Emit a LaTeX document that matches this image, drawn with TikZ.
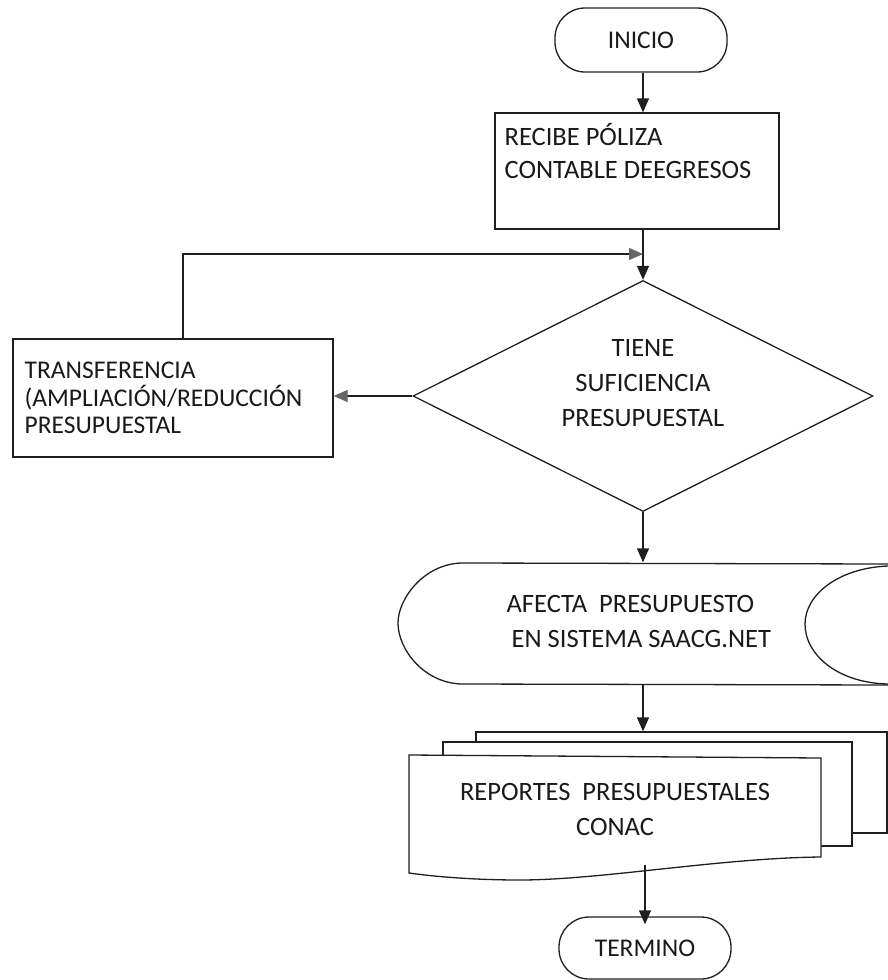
\documentclass[tikz,border=0pt]{standalone}
\usepackage{fontspec}
\setmainfont{Carlito}
\usetikzlibrary{shapes.geometric,arrows.meta,calc}
\begin{document}
\begin{tikzpicture}[x=1pt,y=-1pt,
  line width=1.3pt, color=black!88,
  arr/.style={-{Triangle[length=14pt,width=12pt]}},
  grayarr/.style={-{Triangle[length=14pt,width=12pt,fill=black!60,color=black!60]}},
  lbl/.style={font=\fontsize{26.5}{33}\selectfont, inner sep=0pt, text=black!90},
  term/.style={draw, rounded corners=30pt, minimum width=172pt, minimum height=64pt, inner sep=0pt, font=\fontsize{25.5}{30}\selectfont, text=black!90},
  boxnode/.style={draw, inner sep=0pt},
  ghost/.style={inner sep=0pt, minimum width=1pt},
]
\useasboundingbox (0,0) rectangle (888,980);

% start
\node[term] (inicio) at (641,40) {INICIO};

% receive box
\node[boxnode, minimum width=284pt, minimum height=116pt] (recibe) at (637,171) {};
\node[lbl, anchor=north west, align=left] (recibetxt) at (504,123) {RECIBE PÓLIZA\\CONTABLE DEEGRESOS};

% decision
\node[draw, diamond, minimum width=460pt, minimum height=231pt, inner sep=0pt] (dec) at (643,396) {};
\node[lbl, align=center, font=\fontsize{26.5}{35}\selectfont] (dectxt) at (643,383) {TIENE\\SUFICIENCIA\\PRESUPUESTAL};

% transfer box
\node[boxnode, minimum width=320pt, minimum height=118pt] (transf) at (173,398) {};
\node[lbl, anchor=west, align=left, font=\fontsize{25.5}{27.5}\selectfont] (transftxt) at (24,398) {TRANSFERENCIA\\(AMPLIACIÓN/REDUCCIÓN\\PRESUPUESTAL};

% stored data shape
\node[ghost, minimum height=120pt] (stored) at (643,623) {};
\draw (888,564) -- (463,563) .. controls (425,563) and (398,598) .. (398,623)
      .. controls (398,650) and (425,684) .. (463,684) -- (888,685);
\draw (888,566) .. controls (838,568) and (805,595) .. (805,624)
      .. controls (805,655) and (838,683) .. (888,684);
\node[lbl, anchor=west, align=left, font=\fontsize{26.5}{35}\selectfont] (afecta) at (506,621) {AFECTA\ \ PRESUPUESTO\\\hspace{5pt}EN SISTEMA SAACG.NET};

% multi-document
\node[ghost, minimum height=132pt] (reports) at (645,798) {};
\draw[fill=white] (476,732) rectangle (887,833);
\draw[fill=white] (443,742) rectangle (852,846);
\draw[fill=white] (409,755) -- (821,758) -- (821,857)
      .. controls (720,858) and (600,880) .. (520,880)
      .. controls (470,880) and (430,876) .. (409,873) -- cycle;
\node[lbl, align=center, font=\fontsize{26.5}{35}\selectfont] (reptxt) at (615,809) {REPORTES\ \ PRESUPUESTALES\\CONAC};

% end
\node[term, minimum height=62pt] (termino) at (645,948) {TERMINO};

% connectors
\coordinate (merge) at (dec.north |- 0,254);
\draw[arr] (inicio.south -| dec.north) -- (recibe.north -| dec.north);
\draw[arr] (recibe.south -| dec.north) -- (dec.north);
\draw[grayarr] ([xshift=10pt]transf.north) |- (merge);
\draw[grayarr] (dec.west) -- (dec.west -| transf.east);
\draw[arr] (dec.south) -- (stored.north);
\draw[arr] (stored.south) -- (stored.south |- reports.north);
\draw[arr] (reports.south) -- ([yshift=-8pt]termino.north);
\end{tikzpicture}
\end{document}
